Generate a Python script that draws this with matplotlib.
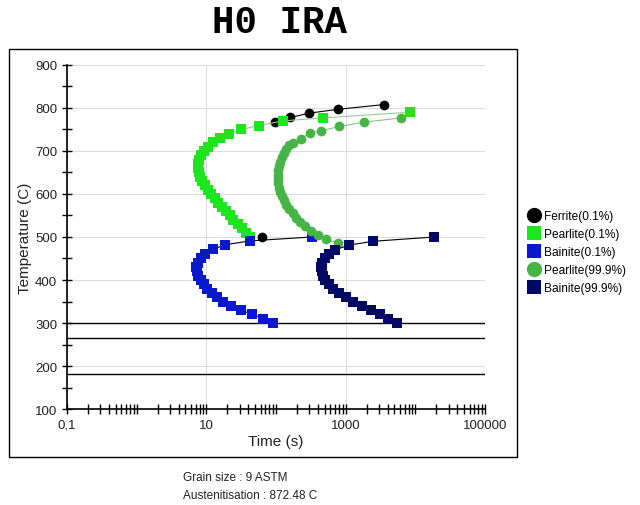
import numpy as np
import matplotlib
matplotlib.use("Agg")
import matplotlib.pyplot as plt
from matplotlib.lines import Line2D
from matplotlib.patches import Rectangle
from matplotlib.ticker import FixedLocator, FixedFormatter, NullFormatter

plt.rcParams['font.family'] = ['Liberation Sans', 'DejaVu Sans']

# --- data (time in s, temperature in C)
ferrite_t = [63, None, 98, 160, 300, 775, 3570]
ferrite_T = [500, None, 768, 778, 788, 797, 808]

pearlite01_T = [500, 510, 520, 530, 540, 550, 560, 570, 580, 590, 600, 610, 620, 630, 640,
                650, 660, 670, 680, 690, 700, 710, 720, 730, 740, 750, 759, 770, 777, 790]
pearlite01_t = [41.7, 37.2, 32.4, 28.2, 24.5, 21.9, 19.1, 16.6, 14.8, 13.2, 11.7, 10.5, 9.5, 8.7, 8.1,
                7.8, 7.6, 7.6, 7.85, 8.4, 9.3, 10.5, 12.3, 15.5, 20.9, 31.6, 56, 126, 468, 8300]

bainite01_T = [300, 310, 320, 330, 340, 350, 360, 370, 380, 390, 400, 410, 420, 430, 440,
               450, 460, 471, 482, 491, 500]
bainite01_t = [91, 66, 45.7, 31.6, 22.4, 17.4, 14.1, 12.0, 10.2, 9.1, 8.3, 7.7, 7.3, 7.2, 7.6,
               8.3, 9.4, 12.3, 18.6, 42.7, 324]

pearlite999_T = [485, 495, 505, 515, 525, 535, 545, 555, 565, 575, 585, 595, 605, 615, 625, 635,
                 645, 655, 665, 675, 685, 695, 705, 713, 719, 729, 741, 747, 757, 767, 777]
pearlite999_t = [780, 525, 398, 316, 263, 224, 195, 174, 155, 140, 129, 120, 114, 110, 107, 106,
                 106, 107, 110, 114, 120, 129, 141, 155, 174, 229, 302, 447, 813, 1820, 6310]

bainite999_T = [300, 310, 320, 330, 340, 350, 360, 370, 380, 390, 400, 410, 420, 430, 440,
                450, 460, 470, 481, 490, 500]
bainite999_t = [5370, 4070, 3090, 2340, 1700, 1290, 1000, 804, 661, 569, 507, 468, 449, 447, 459,
                501, 575, 708, 1096, 2455, 18620]

ms_levels = [300, 264, 181]

series = [
    ("Ferrite(0.1%)", ferrite_t, ferrite_T, 'o', 'black', 'black'),
    ("Pearlite(0.1%)", pearlite01_t, pearlite01_T, 's', '#1ee61e', '#8fd08f'),
    ("Bainite(0.1%)", bainite01_t, bainite01_T, 's', '#0a18cc', 'black'),
    ("Pearlite(99.9%)", pearlite999_t, pearlite999_T, 'o', '#46b446', '#8fc08f'),
    ("Bainite(99.9%)", bainite999_t, bainite999_T, 's', '#000a64', 'black'),
]

fig = plt.figure(figsize=(6.4, 5.06), dpi=100)
ax = fig.add_axes([0.1047, 0.1897, 0.6533, 0.6799])

# outer frame around the plot area
fig.patches.append(Rectangle((0.014, 0.0949), 0.794, 0.806, transform=fig.transFigure,
                             fill=False, edgecolor='black', linewidth=1.0))

for v in ms_levels:
    ax.axhline(v, color='black', linewidth=1.0, zorder=2)

handles = []
for label, t, T, mk, col, lcol in series:
    t = np.array(t, dtype=float)
    T = np.array(T, dtype=float)
    msz = 6.6 if mk == 's' else 7.0
    ax.plot(t, T, color=lcol, linewidth=0.8, marker=mk, markersize=msz,
            markerfacecolor=col, markeredgewidth=0, zorder=3)
    handles.append(Line2D([], [], linestyle='none', marker=mk, markersize=10.5 if mk == 's' else 11,
                          markerfacecolor=col, markeredgewidth=0, label=label))

ax.set_xscale('log')
ax.set_xlim(0.1, 100000)
ax.set_ylim(100, 900)

ax.xaxis.set_major_locator(FixedLocator([0.1, 10, 1000, 100000]))
ax.xaxis.set_major_formatter(FixedFormatter(['0,1', '10', '1000', '100000']))
minor = []
for d in range(-1, 5):
    for k in range(1, 10):
        v = k * 10.0 ** d
        if k == 1 and d % 2 != 0:
            continue
        minor.append(v)
ax.xaxis.set_minor_locator(FixedLocator(minor))
ax.xaxis.set_minor_formatter(NullFormatter())

ax.set_yticks(range(100, 901, 100))
ax.set_yticks(range(150, 900, 100), minor=True)

ax.tick_params(which='both', direction='inout', length=7, width=1, colors='black',
               labelsize=9.5, labelcolor='#222222')
ax.grid(True, which='major', color='#dcdcdc', linewidth=0.8)
ax.set_axisbelow(True)

for s in ['top', 'right']:
    ax.spines[s].set_visible(False)
for s in ['left', 'bottom']:
    ax.spines[s].set_linewidth(1.2)

ax.set_xlabel("Time (s)", fontsize=11, color='#222222', labelpad=2)
ax.set_ylabel("Temperature (C)", fontsize=11, color='#222222', labelpad=2)

fig.text(0.4375, 0.955, "H0 IRA", family='Liberation Mono', fontweight='bold',
         fontsize=27, ha='center', va='center')

fig.legend(handles=handles, loc='upper left', bbox_to_anchor=(0.818, 0.595), frameon=False,
           fontsize=8.6, handlelength=0.8, handletextpad=0.45, labelspacing=0.5, borderpad=0)

fig.text(0.286, 0.055, "Grain size : 9 ASTM", fontsize=8.5, color='#222222', va='center')
fig.text(0.286, 0.020, "Austenitisation : 872.48 C", fontsize=8.5, color='#222222', va='center')

fig.savefig("out.png", dpi=100)
